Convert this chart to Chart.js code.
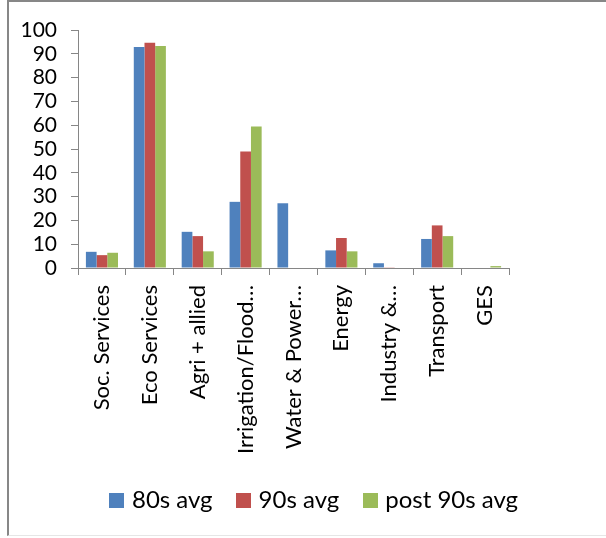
<!DOCTYPE html>
<html>
<head>
<meta charset="utf-8">
<script src="https://cdn.jsdelivr.net/npm/chart.js@4"></script>
<style>
  html, body { margin: 0; padding: 0; background: #fff; }
  #wrap { position: relative; width: 606px; height: 538px; }
  #frame { position: absolute; left: 7px; top: 0; width: 599px; height: 536px;
           border-left: 2px solid #878787; border-top: 2px solid #878787; border-bottom: 1px solid #e6e6e6;
           box-sizing: border-box; pointer-events: none; }
  canvas { position: absolute; left: 0; top: 0; }
</style>
</head>
<body>
<div id="wrap">
  <canvas id="c" width="606" height="538"></canvas>
  <div id="frame"></div>
</div>
<script>
const categories = ["Soc. Services", "Eco Services", "Agri + allied", "Irrigation/Flood…", "Water & Power…", "Energy", "Industry &…", "Transport", "GES"];
const avg80s = [6.8, 92.9, 15.2, 27.8, 27.2, 7.4, 2.0, 12.2, 0];
const avg90s = [5.4, 94.6, 13.4, 49.0, 0, 12.6, 0.3, 17.9, 0];
const post90s = [6.4, 93.3, 7.0, 59.5, 0, 7.0, 0, 13.4, 0.8];
const yTicks = [0, 10, 20, 30, 40, 50, 60, 70, 80, 90, 100];

const FONT = "Lato, 'Open Sans', sans-serif";
const axisGray = '#868686';
const colors = ['#4F81BD', '#C0504D', '#9BBB59'];

function swatch(color) {
  const cv = document.createElement('canvas');
  cv.width = 15; cv.height = 15;
  const cx = cv.getContext('2d');
  cx.fillStyle = color; cx.fillRect(0, 0, 15, 15);
  return cv;
}
const swatches = colors.map(swatch);

const shiftLegend = {
  id: 'shiftLegend',
  afterLayout(chart) {
    if (chart.legend) { chart.legend.left += 4; chart.legend.right += 4; }
  }
};

new Chart(document.getElementById('c'), {
  type: 'bar',
  data: {
    labels: categories,
    datasets: [
      { label: '80s avg', data: avg80s, backgroundColor: colors[0] },
      { label: '90s avg', data: avg90s, backgroundColor: colors[1] },
      { label: 'post 90s avg', data: post90s, backgroundColor: colors[2] }
    ]
  },
  plugins: [shiftLegend],
  options: {
    responsive: false,
    animation: false,
    layout: { padding: { left: 18, right: 0, top: 30, bottom: 16 } },
    datasets: { bar: { barPercentage: 1, categoryPercentage: 0.67 } },
    plugins: {
      tooltip: { enabled: false },
      legend: {
        position: 'bottom',
        labels: {
          font: { family: FONT, size: 24 },
          color: '#000',
          usePointStyle: true,
          pointStyleWidth: 6,
          boxHeight: 15,
          padding: 28,
          generateLabels: (chart) =>
            Chart.defaults.plugins.legend.labels.generateLabels(chart)
              .map((it, i) => Object.assign(it, { pointStyle: swatches[i] }))
        }
      }
    },
    scales: {
      x: {
        afterFit: (s) => { s.height = 192; },
        grid: { drawOnChartArea: false, drawTicks: true, tickLength: 7, color: axisGray, offset: true },
        border: { color: axisGray, width: 1 },
        ticks: {
          autoSkip: false, maxRotation: 90, minRotation: 90,
          font: { family: FONT, size: 22 }, color: '#000', padding: 10
        }
      },
      y: {
        min: 0, max: 100,
        afterFit: (s) => { s.width = 60; },
        afterBuildTicks: (axis) => { axis.ticks = yTicks.map(v => ({ value: v })); },
        grid: { drawOnChartArea: false, drawTicks: true, tickLength: 7, color: axisGray },
        border: { color: axisGray, width: 1 },
        ticks: { autoSkip: false, font: { family: FONT, size: 21 }, color: '#000', padding: 14 }
      },
      yRight: {
        type: 'linear', position: 'right', display: true,
        afterFit: (s) => { s.width = 97; },
        grid: { display: false }, border: { display: false }, ticks: { display: false }
      }
    }
  }
});
</script>
</body>
</html>
